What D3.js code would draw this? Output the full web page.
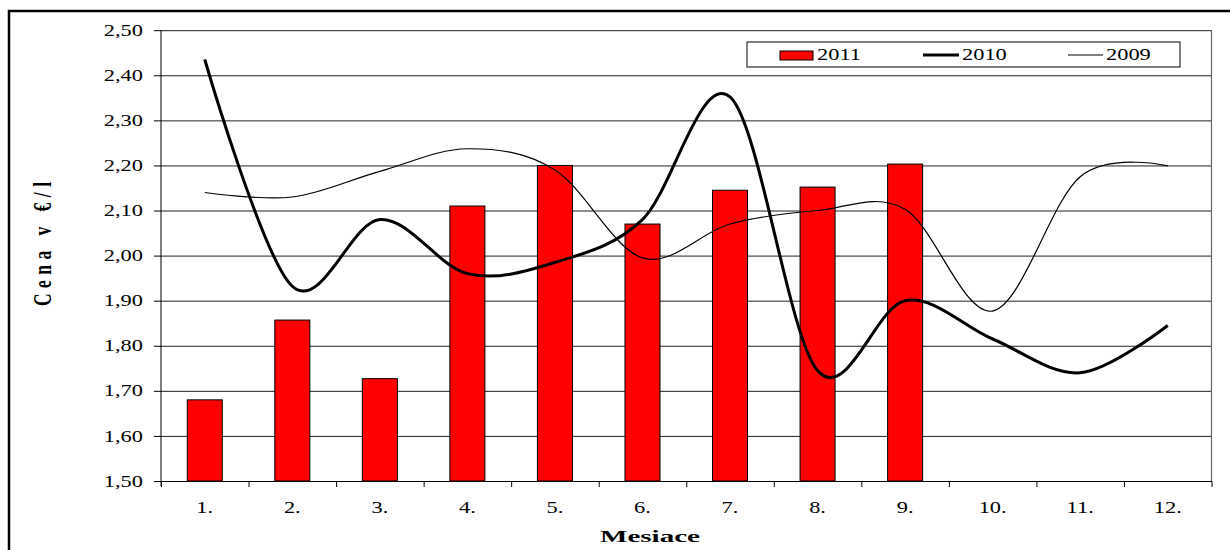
<!DOCTYPE html>
<html><head><meta charset="utf-8">
<script src="https://cdn.jsdelivr.net/npm/d3@7"></script>
<style>
body{margin:0;background:#fff;}
svg{display:block;font-family:"Liberation Serif","Times New Roman",serif;}
</style></head>
<body><svg id="c" width="1230" height="550"></svg>
<script>
const months = ["1.","2.","3.","4.","5.","6.","7.","8.","9.","10.","11.","12."];
const values2011 = [1.68, 1.857, 1.727, 2.11, 2.20, 2.07, 2.145, 2.152, 2.203];
const values2010 = [2.435, 1.932, 2.08, 1.96, 1.985, 2.08, 2.352, 1.745, 1.90, 1.815, 1.74, 1.845];
const values2009 = [2.14, 2.13, 2.187, 2.237, 2.19, 1.995, 2.07, 2.10, 2.103, 1.877, 2.175, 2.199];
const yTicks = [1.5,1.6,1.7,1.8,1.9,2.0,2.1,2.2,2.3,2.4,2.5];
const seriesNames = ["2011","2010","2009"];

const svg = d3.select("#c");
const L = 161, R = 1211.5, T = 30.2, B = 481;
const SX = 1.4;

// outer frame
svg.append("rect").attr("x",9).attr("y",11).attr("width",1240).attr("height",600)
  .attr("fill","none").attr("stroke","#000").attr("stroke-width",2.5);

const x = d3.scaleBand().domain(months).range([L,R]).padding(0);
const xl = d3.scaleLinear().domain([0,12]).range([L,R]);
const y = d3.scaleLinear().domain([1.5,2.5]).range([B,T]);
const fmt = v => d3.format(".2f")(v).replace(".",",");

// gridlines
svg.append("g").attr("transform",`translate(${L},0)`)
  .call(d3.axisLeft(y).tickValues(yTicks).tickSize(-(R-L)).tickFormat(""))
  .call(g=>g.select(".domain").remove())
  .selectAll("line").attr("stroke","#222").attr("stroke-width",1);

// plot right border
svg.append("line").attr("x1",R).attr("x2",R).attr("y1",T).attr("y2",B)
  .attr("stroke","#666").attr("stroke-width",1.2);

// bars
const bw = x.bandwidth()/2.5;
svg.append("g").selectAll("rect").data(values2011).join("rect")
  .attr("x",(d,i)=>x(months[i])+(x.bandwidth()-bw)/2)
  .attr("y",d=>y(d)).attr("width",bw).attr("height",d=>y(1.5)-y(d))
  .attr("fill","#ff0000").attr("stroke","#000").attr("stroke-width",1);

// lines
const line = d3.line().x((d,i)=>x(months[i])+x.bandwidth()/2).y(d=>y(d))
  .curve(d3.curveCardinal.tension(0));
svg.append("path").datum(values2009).attr("d",line).attr("fill","none")
  .attr("stroke","#000").attr("stroke-width",1.2);
svg.append("path").datum(values2010).attr("d",line).attr("fill","none")
  .attr("stroke","#000").attr("stroke-width",3);

// y axis
const ya = svg.append("g").attr("transform",`translate(${L},0)`)
  .call(d3.axisLeft(y).tickValues(yTicks).tickSize(7).tickSizeOuter(0).tickFormat(fmt));
ya.select(".domain").attr("d",`M0,${T}V${B+5}`).attr("stroke","#000");
ya.selectAll(".tick line").attr("stroke","#000");
ya.selectAll("text").attr("font-family","Liberation Serif").attr("font-size",16)
  .attr("fill","#000").attr("x",-18/SX).attr("transform",`scale(${SX},1)`);

// x axis ticks at band boundaries
const xt = svg.append("g").attr("transform",`translate(0,${B})`)
  .call(d3.axisBottom(xl).tickValues(d3.range(0,13)).tickSize(6).tickSizeOuter(0).tickFormat(""));
xt.select(".domain").attr("stroke","#000");
xt.selectAll("line").attr("stroke","#000");

// x labels
const xa = svg.append("g").attr("transform",`translate(0,${B})`)
  .call(d3.axisBottom(x).tickSize(0));
xa.select(".domain").remove();
xa.selectAll("text").attr("font-family","Liberation Serif").attr("font-size",16)
  .attr("fill","#000").attr("y",32).attr("dy",0).attr("transform",`scale(${SX},1)`)
  .attr("x",0);
xa.selectAll(".tick").each(function(d){
  const cx = x(d)+x.bandwidth()/2;
  d3.select(this).attr("transform",`translate(${cx},0)`);
});

// axis titles
svg.append("text").attr("x",600).attr("y",542).attr("font-size",17).attr("font-weight","bold")
  .attr("textLength",100).attr("lengthAdjust","spacingAndGlyphs").text("Mesiace");
svg.append("g").attr("transform",`translate(51,244) scale(${SX},1) rotate(-90)`)
  .append("text").attr("text-anchor","middle").attr("font-size",17.5).attr("font-weight","bold")
  .attr("textLength",124).attr("lengthAdjust","spacing").text("Cena v €/l");

// legend
const lg = svg.append("g");
lg.append("rect").attr("x",747).attr("y",42).attr("width",433).attr("height",25)
  .attr("fill","#fff").attr("stroke","#000").attr("stroke-width",1);
lg.append("rect").attr("x",780).attr("y",51).attr("width",33).attr("height",9)
  .attr("fill","#ff0000").attr("stroke","#000").attr("stroke-width",1);
lg.append("line").attr("x1",923).attr("x2",959).attr("y1",55).attr("y2",55)
  .attr("stroke","#000").attr("stroke-width",3);
lg.append("line").attr("x1",1068).attr("x2",1103).attr("y1",55).attr("y2",55)
  .attr("stroke","#000").attr("stroke-width",1.2);
[[817,seriesNames[0]],[962,seriesNames[1]],[1106,seriesNames[2]]].forEach(([lx,t])=>{
  lg.append("text").attr("transform",`translate(${lx},60) scale(${SX},1)`)
    .attr("font-size",16).text(t);
});
</script></body></html>
